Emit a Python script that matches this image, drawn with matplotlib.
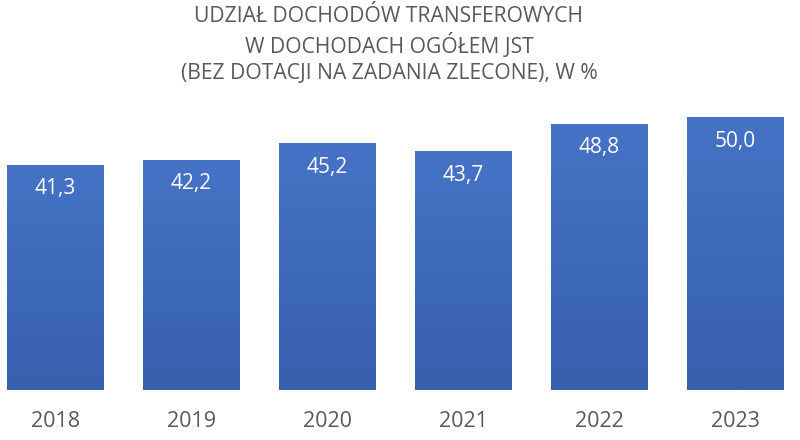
import matplotlib
matplotlib.use("Agg")
import matplotlib.pyplot as plt
import numpy as np
from matplotlib.colors import LinearSegmentedColormap

plt.rcParams['font.family'] = ['Open Sans', 'DejaVu Sans']

years = ['2018', '2019', '2020', '2021', '2022', '2023']
shares = [41.3, 42.2, 45.2, 43.7, 48.8, 50.0]
labels = ['41,3', '42,2', '45,2', '43,7', '48,8', '50,0']

title = ('UDZIAŁ DOCHODÓW TRANSFEROWYCH\n'
         'W DOCHODACH OGÓŁEM JST\n'
         '(BEZ DOTACJI NA ZADANIA ZLECONE), W %')

fig = plt.figure(figsize=(8, 4.4), dpi=100)
ax = fig.add_axes([0, 50 / 440, 1, 273 / 440])

x = np.arange(len(years))
bars = ax.bar(x, shares, width=0.713, color='#3f6bbd', edgecolor='none')

# vertical gradient inside each bar, lighter at top
cmap = LinearSegmentedColormap.from_list('blu', ['#3760ad', '#4673c6'])
grad = np.linspace(0, 1, 256).reshape(-1, 1)
for b in bars:
    x0, w, h = b.get_x(), b.get_width(), b.get_height()
    im = ax.imshow(grad, extent=[x0, x0 + w, 0, h], origin='lower',
                   aspect='auto', cmap=cmap, zorder=2)
    im.set_clip_path(b)

for xi, v, lab in zip(x, shares, labels):
    ax.annotate(lab, (xi, v), xytext=(0, -17.5), textcoords='offset points',
                ha='center', va='center', color='white', fontsize=15, zorder=3)

ax.set_xlim(-0.408, 5.474)
ax.set_ylim(0, 50)
ax.set_xticks(x)
ax.set_xticklabels(years, fontsize=15.5, color='#595959')
ax.tick_params(axis='x', length=0, pad=15)
ax.set_yticks([])
for s in ax.spines.values():
    s.set_visible(False)

fig.text(389 / 800, 1 - 45 / 440, title, ha='center', va='center',
         fontsize=15.2, color='#595959', linespacing=1.29)

fig.savefig('out.png', dpi=100)
